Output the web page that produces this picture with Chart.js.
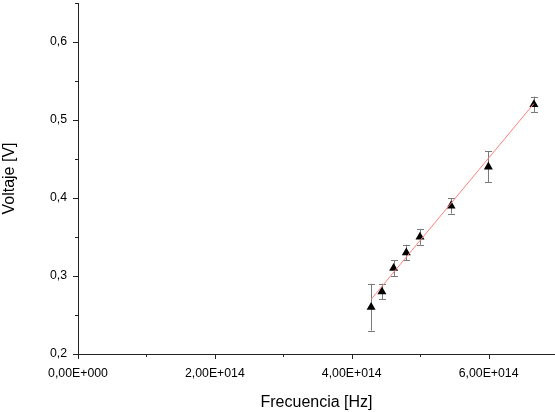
<!DOCTYPE html>
<html>
<head>
<meta charset="utf-8">
<script src="https://cdn.jsdelivr.net/npm/chart.js@4/dist/chart.umd.min.js"></script>
<style>
  body { margin: 0; background: #fff; }
  #wrap { width: 555px; height: 412px; }
</style>
</head>
<body>
<div id="wrap"><canvas id="chart" width="555" height="412"></canvas></div>
<script>
// measured points
const freq = [4.283e14, 4.441e14, 4.612e14, 4.797e14, 4.997e14, 5.451e14, 5.996e14, 6.662e14];
const volt = [0.26, 0.28, 0.31, 0.33, 0.35, 0.39, 0.44, 0.52];
const voltErr = [0.03, 0.01, 0.01, 0.01, 0.01, 0.01, 0.02, 0.01];

// fitted line, both ends
const fitX = [4.283e14, 6.662e14];
const fitY = [0.270, 0.521];

const xTickValues = [0, 1e14, 2e14, 3e14, 4e14, 5e14, 6e14];
const xTickLabels = ["0,00E+000", "", "2,00E+014", "", "4,00E+014", "", "6,00E+014"];
const yTickValues = [0.2, 0.25, 0.3, 0.35, 0.4, 0.45, 0.5, 0.55, 0.6, 0.65];
const yTickLabels = ["0,2", "", "0,3", "", "0,4", "", "0,5", "", "0,6", ""];

const FONT = "'Liberation Sans', Arial, sans-serif";
const AXIS = "#222";

const points = freq.map((f, i) => ({ x: f, y: volt[i], e: voltErr[i] }));
const fitLine = fitX.map((f, i) => ({ x: f, y: fitY[i] }));

const errorBars = {
    id: "errorBars",
    beforeDatasetsDraw(chart) {
        const ctx = chart.ctx;
        const xs = chart.scales.x, ys = chart.scales.y;
        ctx.save();
        ctx.strokeStyle = "#7a7a7a";
        ctx.lineWidth = 1;
        points.forEach(p => {
            const px = Math.round(xs.getPixelForValue(p.x)) + 0.5;
            const top = ys.getPixelForValue(p.y + p.e);
            const bot = ys.getPixelForValue(p.y - p.e);
            ctx.beginPath();
            ctx.moveTo(px, top); ctx.lineTo(px, bot);
            ctx.moveTo(px - 3.5, Math.round(top) + 0.5); ctx.lineTo(px + 3.5, Math.round(top) + 0.5);
            ctx.moveTo(px - 3.5, Math.round(bot) + 0.5); ctx.lineTo(px + 3.5, Math.round(bot) + 0.5);
            ctx.stroke();
        });
        ctx.restore();
    }
};

// major and minor tick marks, pointing outward
const tickMarks = {
    id: "tickMarks",
    afterDraw(chart) {
        const ctx = chart.ctx;
        const xs = chart.scales.x, ys = chart.scales.y;
        ctx.save();
        ctx.strokeStyle = AXIS;
        ctx.lineWidth = 1;
        ctx.beginPath();
        xs.ticks.forEach((t, i) => {
            const px = Math.round(xs.getPixelForValue(t.value)) + 0.5;
            const len = xTickLabels[i] ? 5 : 3;
            ctx.moveTo(px, xs.top); ctx.lineTo(px, xs.top + len);
        });
        ys.ticks.forEach((t, i) => {
            const py = Math.round(ys.getPixelForValue(t.value)) + 0.5;
            const len = yTickLabels[i] ? 5 : 3;
            ctx.moveTo(ys.right, py); ctx.lineTo(ys.right - len, py);
        });
        ctx.stroke();
        ctx.restore();
    }
};

new Chart(document.getElementById("chart"), {
    type: "scatter",
    data: {
        datasets: [
            {
                type: "line",
                data: fitLine,
                borderColor: "#ff8080",
                borderWidth: 1,
                pointRadius: 0,
                fill: false,
                order: 0
            },
            {
                data: points,
                pointStyle: "triangle",
                pointRadius: 5.2,
                backgroundColor: "#000",
                borderColor: "#000",
                borderWidth: 0,
                order: 1
            }
        ]
    },
    options: {
        responsive: false,
        animation: false,
        layout: { autoPadding: false, padding: { top: 3, right: 0, left: 0, bottom: 0 } },
        plugins: { legend: { display: false }, tooltip: { enabled: false } },
        scales: {
            x: {
                type: "linear",
                min: 0,
                max: 6.97e14,
                afterBuildTicks: s => { s.ticks = xTickValues.map(v => ({ value: v })); },
                afterFit: s => { s.height = 58; s.paddingLeft = 0; s.paddingRight = 0; },
                grid: { display: false, drawTicks: false },
                border: { display: true, color: AXIS, width: 1 },
                ticks: {
                    autoSkip: false,
                    maxRotation: 0,
                    padding: 12,
                    color: "#000",
                    font: { family: FONT, size: 12.3 },
                    callback: (v, i) => xTickLabels[i]
                },
                title: {
                    display: true,
                    text: "Frecuencia [Hz]",
                    color: "#000",
                    font: { family: FONT, size: 16 },
                    padding: { top: 0, bottom: 0 }
                }
            },
            y: {
                min: 0.2,
                max: 0.65,
                afterBuildTicks: s => { s.ticks = yTickValues.map(v => ({ value: v })); },
                afterFit: s => { s.width = 78; s.paddingTop = 0; s.paddingBottom = 0; },
                grid: { display: false, drawTicks: false },
                border: { display: true, color: AXIS, width: 1 },
                ticks: {
                    autoSkip: false,
                    padding: 11,
                    color: "#000",
                    font: { family: FONT, size: 12.3 },
                    callback: (v, i) => yTickLabels[i]
                },
                title: {
                    display: true,
                    text: "Voltaje [V]",
                    color: "#000",
                    font: { family: FONT, size: 16 },
                    padding: { top: 0, bottom: 0 }
                }
            }
        }
    },
    plugins: [errorBars, tickMarks]
});
</script>
</body>
</html>
